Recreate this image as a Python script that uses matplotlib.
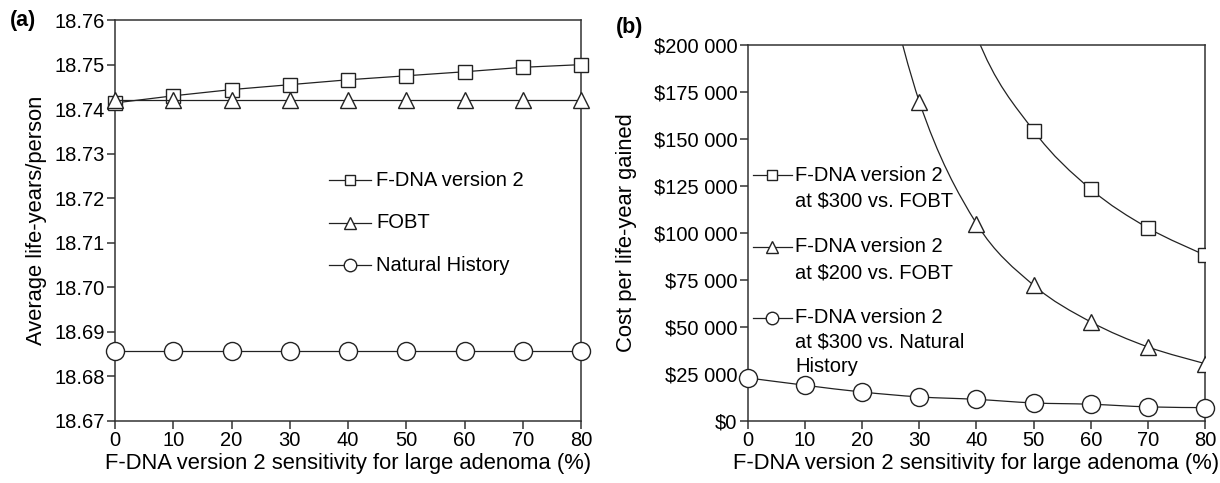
import matplotlib

matplotlib.use("Agg")
import matplotlib.pyplot as plt
import numpy as np
from matplotlib.path import Path
from matplotlib.patches import PathPatch
from matplotlib.ticker import FuncFormatter
from matplotlib.transforms import offset_copy

plt.rcParams["font.family"] = ["Liberation Sans", "DejaVu Sans"]

# ---------------------------------------------------------------- data ---
sens = [0, 10, 20, 30, 40, 50, 60, 70, 80]

# panel (a): average life-years per person
ly_fdna = [18.7414, 18.7430, 18.7444, 18.7455, 18.7466, 18.7475, 18.7484, 18.7494, 18.7500]
ly_fobt = [18.7420] * 9
ly_nat = [18.6858] * 9
labels_a = ["F-DNA version 2", "FOBT", "Natural History"]

# panel (b): cost per life-year gained (points above $200 000 run off the chart)
sens_300_fobt = [30, 40, 50, 60, 70, 80]
cost_300_fobt = [310000, 205000, 154400, 123300, 102700, 88200]
sens_200_fobt = [20, 30, 40, 50, 60, 70, 80]
cost_200_fobt = [285000, 169800, 105000, 72200, 52700, 39400, 30500]
cost_300_nat = [22900, 19000, 15400, 12800, 11500, 9600, 8900, 7500, 7100]
labels_b = ["F-DNA version 2\nat $300 vs. FOBT",
            "F-DNA version 2\nat $200 vs. FOBT",
            "F-DNA version 2\nat $300 vs. Natural\nHistory"]

XLABEL = "F-DNA version 2 sensitivity for large adenoma (%)"
INK = "#222222"
MARKERS = ["s", "^", "o"]
SIZES = [10, 11.5, 13]


def smooth_path(xs, ys):
    """Excel-style smoothed line: cubic Bezier through the points (Catmull-Rom tangents)."""
    p = np.column_stack([xs, ys]).astype(float)
    ext = np.vstack([p[0], p, p[-1]])
    verts = [p[0]]
    codes = [Path.MOVETO]
    for i in range(len(p) - 1):
        a, b, c, d = ext[i], ext[i + 1], ext[i + 2], ext[i + 3]
        verts += [b + (c - a) / 6, c - (d - b) / 6, c]
        codes += [Path.CURVE4] * 3
    return Path(verts, codes)


def style_axes(ax):
    for s in ax.spines.values():
        s.set_color("#333333")
        s.set_linewidth(1.1)
    ax.tick_params(direction="out", length=6, width=1.1, color="#333333",
                   labelsize=14.5, pad=1.5, top=False, right=False)
    ax.set_xticks(sens)
    ax.set_xlim(0, 80)
    ax.set_xlabel(XLABEL, fontsize=15.8, labelpad=2)


def key(ax, x0, x1, xt, y, marker, ms, text, lead=26):
    """one legend row: short line with marker, label lines to the right (axes coords)"""
    ax.plot([x0, x1], [y, y], color=INK, lw=0.9, transform=ax.transAxes, clip_on=False)
    ax.plot([(x0 + x1) / 2], [y], marker=marker, ms=ms, mfc="white", mec=INK, mew=1.0,
            transform=ax.transAxes, clip_on=False, zorder=4)
    for i, line in enumerate(text.split("\n")):
        tr = offset_copy(ax.transAxes, fig=ax.figure, x=0, y=-i * lead, units="dots")
        ax.text(xt, y, line, transform=tr, fontsize=14.5, va="center", ha="left")


fig = plt.figure(figsize=(12.2, 4.83), dpi=100)
axa = fig.add_axes([0.0943, 0.1284, 0.382, 0.830])
axb = fig.add_axes([0.6131, 0.1284, 0.3746, 0.7785])

mk = dict(color=INK, lw=0.9, markerfacecolor="white", markeredgecolor=INK,
          markeredgewidth=1.0, clip_on=False, zorder=3)

# ---------------------------------------------------------------- (a) ---
for ys, m, s in zip([ly_fdna, ly_fobt, ly_nat], MARKERS, SIZES):
    axa.plot(sens, ys, marker=m, ms=s, **mk)
axa.set_ylim(18.67, 18.76)
axa.set_yticks(np.arange(18.67, 18.7601, 0.01))
axa.yaxis.set_major_formatter(FuncFormatter(lambda v, _: f"{v:.2f}"))
axa.set_ylabel("Average life-years/person", fontsize=15.8, labelpad=5)
style_axes(axa)
for i, (lab, m, s) in enumerate(zip(labels_a, MARKERS, [7.5, 9, 9])):
    y = 0.601 - i * 0.106
    key(axa, 0.459, 0.549, 0.56, y, m, s, lab)
fig.text(0.008, 0.958, "(a)", fontsize=15.5, fontweight="bold", va="center")

# ---------------------------------------------------------------- (b) ---
lw = 0.9
for xs, ys in [(sens_300_fobt, cost_300_fobt), (sens_200_fobt, cost_200_fobt),
               (sens, cost_300_nat)]:
    axb.add_patch(PathPatch(smooth_path(xs, ys), fill=False, edgecolor=INK, lw=lw, zorder=2))
mkb = dict(ls="none", markerfacecolor="white", markeredgecolor=INK,
           markeredgewidth=1.0, zorder=3)
axb.plot(sens_300_fobt, cost_300_fobt, marker="s", ms=SIZES[0], clip_on=True, **mkb)
axb.plot(sens_200_fobt, cost_200_fobt, marker="^", ms=SIZES[1], clip_on=True, **mkb)
axb.plot(sens, cost_300_nat, marker="o", ms=SIZES[2], clip_on=False, **mkb)
axb.set_ylim(0, 200000)
axb.set_yticks(np.arange(0, 200001, 25000))
axb.yaxis.set_major_formatter(
    FuncFormatter(lambda v, _: "$0" if v == 0 else f"${int(v) // 1000} {int(v) % 1000:03d}"))
axb.set_ylabel("Cost per life-year gained", fontsize=15.8, labelpad=12)
style_axes(axb)
for lab, m, s, y in zip(labels_b, MARKERS, [7.5, 9, 9], [0.654, 0.463, 0.274]):
    key(axb, 0.011, 0.096, 0.103, y, m, s, lab, lead=26 if y > 0.3 else 24.5)
fig.text(0.505, 0.944, "(b)", fontsize=15.5, fontweight="bold", va="center")

fig.savefig("out.png", dpi=100)
